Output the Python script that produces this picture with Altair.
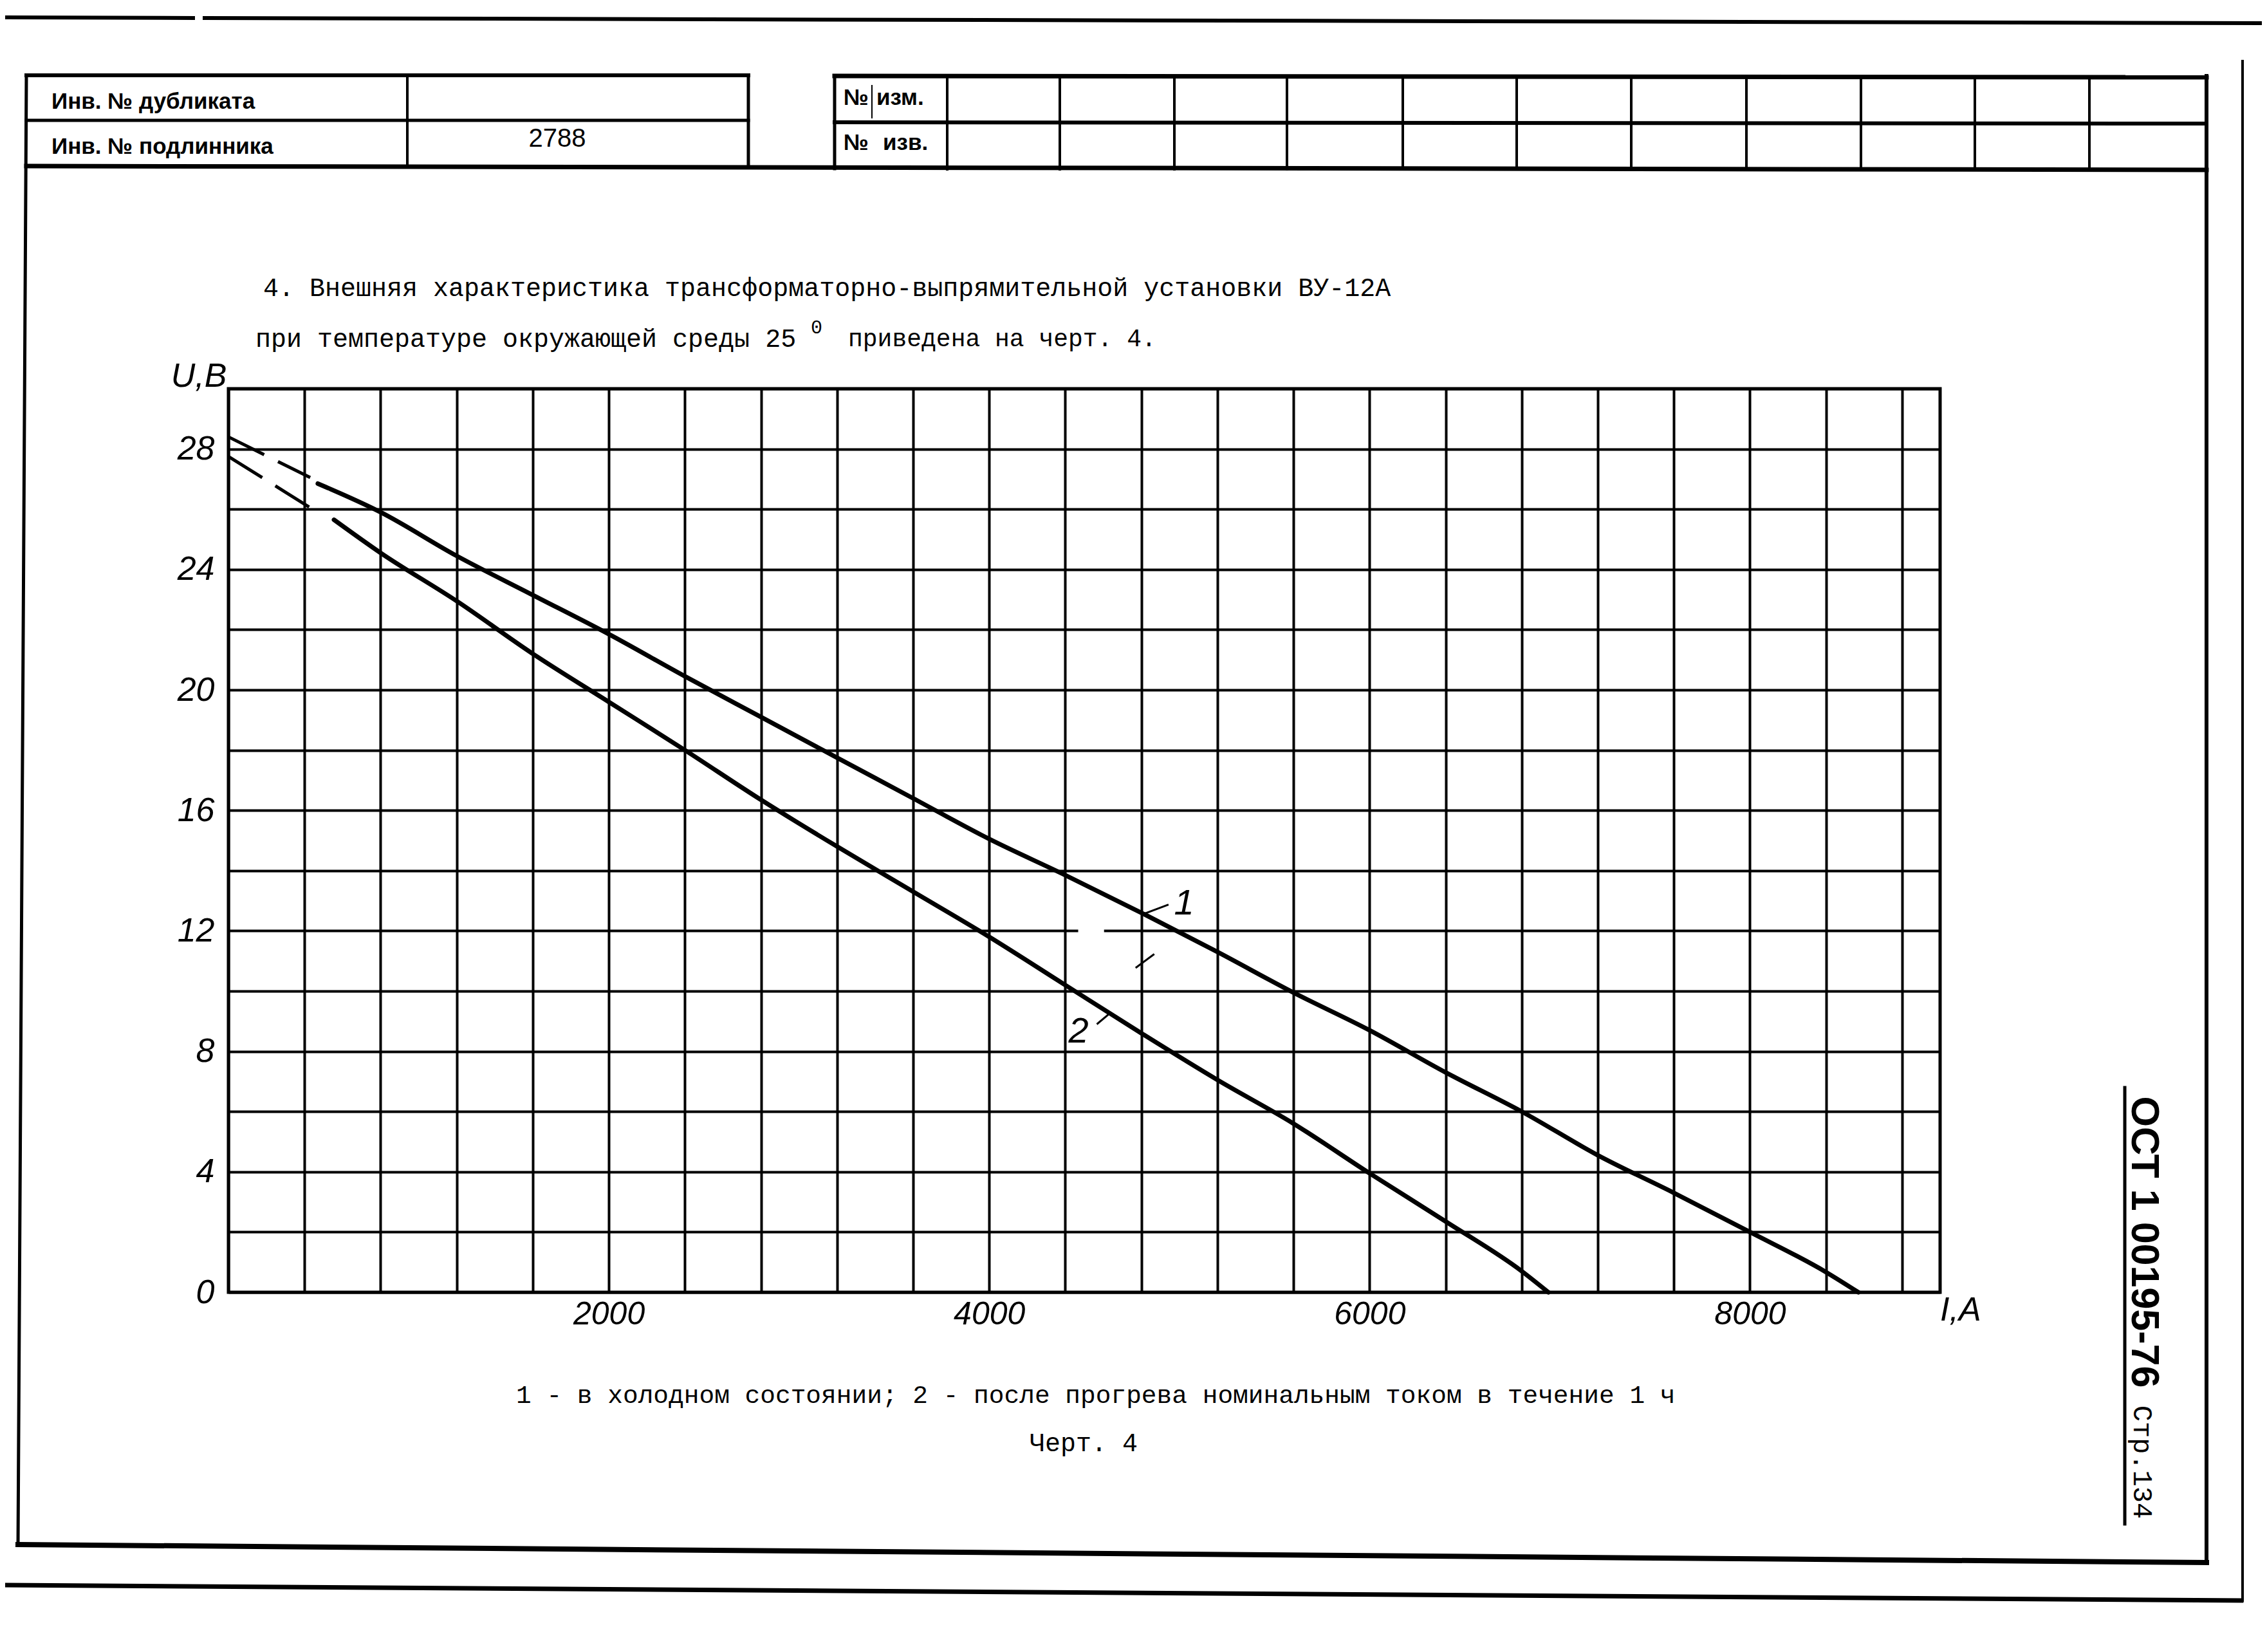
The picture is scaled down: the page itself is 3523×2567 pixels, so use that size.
import altair as alt
import pandas as pd

# ---------------- values ----------------
# curve 1: cold state (dashed extrapolation + measured solid part)
I_cold_dashed = [0, 430]
U_cold_dashed = [28.4, 27.05]
I_cold = [470, 800, 1200, 1600, 2000, 2400, 2800, 3200, 3600, 4000, 4400,
          4800, 5200, 5600, 6000, 6400, 6800, 7200, 7600, 8000, 8400, 8570]
U_cold = [26.85, 25.9, 24.45, 23.15, 21.85, 20.45, 19.1, 17.75, 16.4, 15.05, 13.85,
          12.6, 11.3, 9.95, 8.7, 7.3, 6.0, 4.55, 3.3, 2.0, 0.67, 0.0]
# curve 2: after 1 h warm-up at rated current
I_hot_dashed = [0, 480]
U_hot_dashed = [27.75, 25.85]
I_hot = [555, 800, 1200, 1600, 2000, 2400, 2800, 3200, 3600, 4000, 4400,
         4800, 5200, 5600, 6000, 6400, 6800, 6940]
U_hot = [25.65, 24.55, 22.95, 21.2, 19.6, 18.0, 16.35, 14.8, 13.3, 11.8, 10.2,
         8.6, 7.05, 5.6, 3.95, 2.35, 0.7, 0.0]

x_grid = list(range(0, 8801, 400))
y_grid = list(range(0, 31, 2))
x_labels = [2000, 4000, 6000, 8000]
y_labels = [0, 4, 8, 12, 16, 20, 24, 28]

curve_names = ["1", "2"]
curve_label_I = [5025, 4470]
curve_label_U = [12.9, 8.65]
leader_I = [4808, 4566, 4770]
leader_U = [12.55, 8.9, 10.77]
leader_I2 = [4943, 4634, 4868]
leader_U2 = [12.87, 9.26, 11.23]
gap_I, gap_I2, gap_U = [4468], [4604], [12]

title_line1 = "4. Внешняя характеристика трансформаторно-выпрямительной установки ВУ-12А"
title_line2a = "при температуре окружающей среды 25"
title_sup = "0"
title_line2b = "приведена на черт. 4."
caption = "1 - в холодном состоянии; 2 - после прогрева номинальным током в течение 1 ч"
fig_no = "Черт. 4"
y_title = "U,B"
x_title = "I,A"
tbl_left = ["Инв. № дубликата", "Инв. № подлинника"]
tbl_value = "2788"
tbl_right = [("№", "изм."), ("№", "изв.")]
doc_code = "ОСТ 1 00195-76"
page_no = "Стр.134"

# ---------------- layout ----------------
OX, OY = 355, 604          # page position of plot origin
W, H = 2660, 1404
NARROW = "'Liberation Sans Narrow', 'Liberation Sans', Arial, sans-serif"
MONO = "'Liberation Mono', 'DejaVu Sans Mono', monospace"

one = pd.DataFrame({"k": [0]})


def seg(x1, y1, x2, y2, w=5, color="black"):
    return alt.Chart(one).mark_rule(color=color, strokeWidth=w, strokeCap="square").encode(
        x=alt.value(x1 - OX), y=alt.value(y1 - OY),
        x2=alt.value(x2 - OX), y2=alt.value(y2 - OY))


def txt(s, x, y, size, font, weight="normal", style="normal", align="left", angle=0):
    return alt.Chart(one).mark_text(
        text=s, font=font, fontSize=size, fontWeight=weight, fontStyle=style,
        align=align, baseline="middle", angle=angle, color="black").encode(
        x=alt.value(x - OX), y=alt.value(y - OY))


sx = alt.Scale(domain=[0, 9000], nice=False, zero=False)
sy = alt.Scale(domain=[0, 30], nice=False, zero=False)

xaxis = alt.Axis(values=x_grid, grid=True, gridColor="black", gridWidth=4, gridOpacity=1,
                 ticks=False, domain=False, title=None, labelOverlap=False,
                 labelExpr=f"indexof({x_labels}, datum.value) >= 0 ? format(datum.value, 'd') : ''",
                 labelFont=NARROW, labelFontSize=50, labelFontStyle="italic",
                 labelColor="black", labelPadding=9)
yaxis = alt.Axis(values=y_grid, grid=True, gridColor="black", gridWidth=4, gridOpacity=1,
                 ticks=False, domain=False, title=None, labelOverlap=False,
                 labelExpr=f"indexof({y_labels}, datum.value) >= 0 ? format(datum.value, 'd') : ''",
                 labelFont=NARROW, labelFontSize=52, labelFontStyle="italic",
                 labelColor="black", labelPadding=22)

solid = pd.DataFrame({
    "I": I_cold + I_hot,
    "U": U_cold + U_hot,
    "curve": ["1"] * len(I_cold) + ["2"] * len(I_hot),
})
dashed = pd.DataFrame({
    "I": I_cold_dashed + I_hot_dashed,
    "U": U_cold_dashed + U_hot_dashed,
    "curve": ["1"] * len(I_cold_dashed) + ["2"] * len(I_hot_dashed),
})
labels = pd.DataFrame({"I": curve_label_I, "U": curve_label_U, "t": curve_names})
leaders = pd.DataFrame({"I": leader_I, "U": leader_U, "I2": leader_I2, "U2": leader_U2})
gaps = pd.DataFrame({"I": gap_I, "I2": gap_I2, "U": gap_U})

lines_solid = alt.Chart(solid).mark_line(
    color="black", strokeWidth=7, strokeCap="round", strokeJoin="round",
    interpolate="monotone").encode(
    x=alt.X("I:Q", scale=sx, axis=xaxis),
    y=alt.Y("U:Q", scale=sy, axis=yaxis),
    detail="curve:N", order="I:Q")

lines_dashed = alt.Chart(dashed).mark_line(
    color="black", strokeWidth=5, strokeDash=[62, 24]).encode(
    x=alt.X("I:Q", scale=sx), y=alt.Y("U:Q", scale=sy), detail="curve:N")

gap_layer = alt.Chart(gaps).mark_rule(color="white", strokeWidth=8).encode(
    x=alt.X("I:Q", scale=sx), x2="I2:Q", y=alt.Y("U:Q", scale=sy))

leader_layer = alt.Chart(leaders).mark_rule(color="black", strokeWidth=3).encode(
    x=alt.X("I:Q", scale=sx), y=alt.Y("U:Q", scale=sy), x2="I2:Q", y2="U2:Q")

label_layer = alt.Chart(labels).mark_text(
    font=NARROW, fontSize=56, fontStyle="italic", color="black",
    align="center", baseline="middle").encode(
    x=alt.X("I:Q", scale=sx), y=alt.Y("U:Q", scale=sy), text="t:N")

deco = []
# scan edges / frame
deco += [seg(8, 27, 300, 28, 6), seg(318, 28, 3515, 36, 6)]
# left table
deco += [seg(41, 117, 1163, 117, 6), seg(41, 187, 1163, 187, 5),
         seg(633, 117, 633, 258, 4), seg(1163, 117, 1163, 258, 5),
         seg(41, 117, 28, 2400, 5)]
# right table
deco += [seg(1297, 118, 3429, 120, 7), seg(1297, 190, 3429, 192, 6),
         seg(1297, 118, 1297, 262, 5), seg(1355, 133, 1355, 183, 2)]
for cx in [1472, 1647, 1825, 2000, 2180, 2357, 2535, 2714, 2892, 3069, 3247]:
    deco.append(seg(cx, 119, cx, 263, 4))
deco += [seg(41, 258, 3429, 264, 7),
         seg(3429, 118, 3429, 2428, 6),
         seg(28, 2400, 3429, 2428, 8),
         seg(8, 2463, 3483, 2487, 7),
         seg(3485, 95, 3485, 2487, 4),
         seg(3302, 1690, 3302, 2368, 5)]

# texts
deco += [txt(tbl_left[0], 80, 158, 35, NARROW, weight="bold"),
         txt(tbl_left[1], 80, 228, 35, NARROW, weight="bold"),
         txt(tbl_value, 866, 216, 40, NARROW, align="center"),
         txt(tbl_right[0][0], 1311, 152, 35, NARROW, weight="bold"),
         txt(tbl_right[0][1], 1362, 152, 35, NARROW, weight="bold"),
         txt(tbl_right[1][0], 1311, 222, 35, NARROW, weight="bold"),
         txt(tbl_right[1][1], 1372, 222, 35, NARROW, weight="bold")]
deco += [txt(title_line1, 409, 448, 40, MONO),
         txt(title_line2a, 397, 527, 40, MONO),
         txt(title_sup, 1260, 509, 30, MONO),
         txt(title_line2b, 1318, 527, 38, MONO),
         txt(caption, 802, 2168, 39.5, MONO),
         txt(fig_no, 1600, 2243, 40, MONO)]
deco += [txt(y_title, 309, 585, 52, NARROW, style="italic", align="center"),
         txt(x_title, 3015, 2036, 52, NARROW, style="italic")]
deco += [txt(doc_code, 3331, 1930, 61, NARROW, weight="bold", align="center", angle=90),
         txt(page_no, 3329, 2272, 42, MONO, align="center", angle=90)]

chart = alt.layer(lines_solid, gap_layer, lines_dashed, leader_layer, label_layer, *deco).properties(
    width=W, height=H,
    padding={"left": OX - 8, "top": OY - 8, "right": 3507 - (OX - 8) - W, "bottom": 2551 - (OY - 8) - H},
    autosize=alt.AutoSizeParams(type="none"),
    background="white",
).configure_view(stroke="black", strokeWidth=5)

chart.save("out.html", embed_options={"renderer": "svg", "actions": False})
